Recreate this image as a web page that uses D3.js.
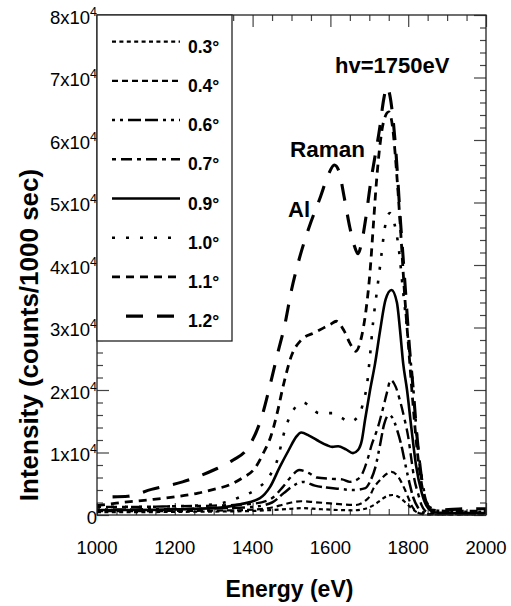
<!DOCTYPE html>
<html>
<head>
<meta charset="utf-8">
<script src="https://cdn.jsdelivr.net/npm/d3@7/dist/d3.min.js"></script>
<style>
body { margin: 0; background: #fff; }
text { font-family: "Liberation Sans", Arial, sans-serif; fill: #000; }
</style>
</head>
<body>
<div id="chart"></div>
<script>
// incidence angles (legend order) and tick values
var angles = ["0.3", "0.4", "0.6", "0.7", "0.9", "1.0", "1.1", "1.2"];
var xTicks = [1000, 1200, 1400, 1600, 1800, 2000];
var yTicks = [0, 10000, 20000, 30000, 40000, 50000, 60000, 70000, 80000];

// spectra: [energy (eV), intensity (counts/1000 sec)]
var s03 = [[1000, 450], [1100, 450], [1200, 500], [1300, 550], [1400, 650], [1450, 800], [1500, 1000],
  [1530, 1100], [1570, 950], [1620, 800], [1660, 750], [1690, 1000], [1712, 1600], [1732, 2500],
  [1748, 3100], [1760, 3200], [1778, 2800], [1793, 2000], [1808, 1100], [1822, 450], [1838, 150],
  [1860, 80], [1920, 80], [2000, 80]];
var s04 = [[1000, 600], [1100, 600], [1200, 650], [1300, 700], [1400, 850], [1450, 1200], [1480, 1700],
  [1500, 2000], [1525, 2200], [1560, 2050], [1600, 1850], [1640, 1650], [1665, 1600], [1690, 2300],
  [1700, 2900], [1712, 4400], [1728, 5600], [1745, 6600], [1757, 6900], [1772, 6300], [1782, 5300],
  [1792, 4000], [1800, 2800], [1808, 1600], [1818, 700], [1830, 250], [1845, 120], [1880, 100], [2000, 100]];
var s06 = [[1000, 900], [1100, 900], [1200, 950], [1300, 1050], [1400, 1300], [1450, 2000], [1480, 3500],
  [1505, 4700], [1530, 5300], [1560, 4700], [1590, 4400], [1620, 4200], [1660, 4000], [1690, 4300],
  [1703, 5500], [1715, 7500], [1727, 11000], [1738, 14500], [1750, 16000], [1760, 15500], [1772, 13500],
  [1783, 11000], [1793, 8000], [1803, 5200], [1813, 2800], [1825, 1200], [1840, 400], [1860, 200],
  [1920, 150], [2000, 150]];
var s07 = [[1000, 1300], [1100, 1300], [1200, 1400], [1300, 1500], [1400, 1800], [1445, 2500], [1478, 4500],
  [1500, 6200], [1520, 7200], [1545, 6700], [1565, 6000], [1600, 5800], [1630, 5700], [1650, 5300],
  [1676, 6000], [1688, 7500], [1696, 9000], [1705, 11000], [1722, 14000], [1735, 17000], [1745, 19500],
  [1755, 21600], [1768, 20500], [1778, 18500], [1790, 15500], [1800, 12500], [1808, 9000], [1815, 6000],
  [1825, 3500], [1835, 1500], [1848, 500], [1865, 250], [1920, 200], [2000, 200]];
var s09 = [[1000, 800], [1100, 800], [1200, 900], [1300, 1100], [1368, 1700], [1419, 2700], [1445, 4500],
  [1470, 7700], [1493, 10400], [1512, 12500], [1525, 13200], [1545, 12700], [1565, 12000], [1590, 11200],
  [1605, 10900], [1620, 11000], [1640, 10500], [1658, 9900], [1671, 10400], [1681, 12000], [1689, 15200],
  [1702, 20000], [1715, 24300], [1728, 29600], [1742, 34500], [1757, 36000], [1771, 34000], [1779, 29600],
  [1787, 24300], [1797, 20000], [1808, 14000], [1820, 8000], [1835, 3500], [1850, 1200], [1870, 400],
  [1920, 300], [2000, 300]];
var s10 = [[1000, 1300], [1100, 1300], [1200, 1400], [1300, 1700], [1340, 2200], [1368, 2900], [1406, 4000],
  [1442, 6100], [1462, 8500], [1483, 13600], [1500, 16300], [1530, 18000], [1550, 17200], [1570, 16300],
  [1605, 16300], [1630, 15500], [1648, 14900], [1671, 15700], [1686, 18400], [1694, 20800], [1702, 25600],
  [1710, 31000], [1720, 36000], [1730, 41000], [1740, 46000], [1753, 48300], [1765, 46500], [1775, 43000],
  [1787, 35700], [1800, 28000], [1812, 21000], [1822, 13000], [1835, 6000], [1848, 2000], [1865, 800],
  [1920, 500], [2000, 500]];
var s11 = [[1000, 1500], [1050, 1900], [1130, 2400], [1200, 2900], [1260, 3500], [1300, 4100], [1340, 4800],
  [1373, 5900], [1406, 7500], [1430, 10200], [1447, 12600], [1462, 16000], [1480, 21000], [1500, 25500],
  [1525, 28000], [1560, 29200], [1600, 30500], [1615, 31000], [1635, 29500], [1650, 27500], [1665, 26200],
  [1680, 28500], [1692, 33000], [1702, 39000], [1710, 46000], [1718, 53000], [1727, 59000], [1737, 63000],
  [1750, 64500], [1760, 62000], [1770, 55000], [1780, 46000], [1790, 36000], [1802, 26000], [1812, 18000],
  [1822, 11000], [1833, 5500], [1845, 2000], [1860, 800], [1920, 600], [2000, 600]];
var s12 = [[1040, 2900], [1080, 3000], [1140, 4100], [1220, 5300], [1300, 7200], [1350, 8800], [1385, 10500],
  [1425, 16000], [1445, 20800], [1465, 26000], [1483, 30500], [1500, 36000], [1520, 41000], [1545, 46000],
  [1575, 51000], [1595, 54500], [1610, 56000], [1622, 55000], [1635, 51000], [1650, 46000], [1662, 43000],
  [1671, 41800], [1680, 43500], [1691, 47500], [1703, 53000], [1715, 57500], [1727, 62000], [1737, 66500],
  [1745, 68500], [1757, 65500], [1766, 60000], [1773, 54000], [1779, 48000], [1786, 42000], [1794, 35000],
  [1803, 27000], [1813, 20000], [1822, 13000], [1832, 7000], [1842, 3000], [1855, 1200], [1880, 800],
  [1950, 1000], [2000, 1000]];

var spectra = [s03, s04, s06, s07, s09, s10, s11, s12];

// line styles per angle
var styles = [
  { dash: "4,3.4", w: 2.2 },
  { dash: "6,4", w: 2.2 },
  { dash: "3,5,3,5,13,4,13,5", w: 2.5 },
  { dash: "4,5,11,5", w: 2.4 },
  { dash: null, w: 2.6 },
  { dash: "3,11", w: 2.6 },
  { dash: "8,6", w: 2.8 },
  { dash: "17,14", w: 3.1 }
];

var margin = { top: 15, right: 25, bottom: 91, left: 97 },
    width = 511 - margin.left - margin.right,
    height = 606 - margin.top - margin.bottom;

var svg = d3.select("#chart")
    .append("svg")
    .attr("width", 511)
    .attr("height", 606)
    .append("g")
    .attr("transform", "translate(" + margin.left + "," + margin.top + ")");

var x = d3.scaleLinear().domain([1000, 2000]).range([0, width]);
var y = d3.scaleLinear().domain([0, 80000]).range([height, 0]);

var xMinor = d3.range(1000, 2001, 50).filter(function (d) { return d % 200 != 0; });
var yMinor = d3.range(0, 80001, 2000).filter(function (d) { return d % 10000 != 0; });

// inward ticks on all four sides
function ticks(axis, vals, size) {
    return axis.tickValues(vals).tickSize(-size).tickFormat("");
}
var axes = [
    [ticks(d3.axisLeft(y), yTicks, 12), "translate(0,0)"],
    [ticks(d3.axisLeft(y), yMinor, 6), "translate(0,0)"],
    [ticks(d3.axisRight(y), yTicks, 12), "translate(" + width + ",0)"],
    [ticks(d3.axisRight(y), yMinor, 6), "translate(" + width + ",0)"],
    [ticks(d3.axisTop(x), xTicks, 12), "translate(0,0)"],
    [ticks(d3.axisTop(x), xMinor, 6), "translate(0,0)"],
    [ticks(d3.axisBottom(x), xTicks, 12), "translate(0," + height + ")"],
    [ticks(d3.axisBottom(x), xMinor, 6), "translate(0," + height + ")"]
];
axes.forEach(function (a) {
    var g = svg.append("g").attr("transform", a[1]).call(a[0]);
    g.select(".domain").remove();
    g.selectAll("line").attr("stroke", "#444").attr("stroke-width", 1.2);
});

// tick labels
svg.selectAll(".xlab")
    .data(xTicks)
    .enter()
    .append("text")
    .attr("class", "xlab")
    .attr("x", function (d) { return x(d); })
    .attr("y", height + 38.5)
    .attr("text-anchor", "middle")
    .style("font-size", "18.5px")
    .text(function (d) { return d; });

var ylab = svg.selectAll(".ylab")
    .data(yTicks)
    .enter()
    .append("text")
    .attr("class", "ylab")
    .attr("x", 0)
    .attr("y", function (d) { return y(d) + 8.5; })
    .attr("text-anchor", "end")
    .style("font-size", "18.5px");
ylab.append("tspan").text(function (d) { return d == 0 ? "0" : (d / 10000) + "x10"; });
ylab.filter(function (d) { return d > 0; })
    .append("tspan")
    .attr("dy", -8)
    .style("font-size", "12.5px")
    .text("4");

// spectra
var line = d3.line()
    .x(function (d) { return x(d[0]); })
    .y(function (d) { return y(d[1]); })
    .curve(d3.curveMonotoneX);

svg.selectAll(".spec")
    .data(spectra)
    .enter()
    .append("path")
    .attr("class", "spec")
    .attr("d", line)
    .attr("fill", "none")
    .attr("stroke", "#000")
    .attr("stroke-width", function (d, i) { return styles[i].w; })
    .attr("stroke-dasharray", function (d, i) { return styles[i].dash; });

// frame
svg.append("rect")
    .attr("width", width)
    .attr("height", height)
    .attr("fill", "none")
    .attr("stroke", "#222")
    .attr("stroke-width", 1.3);

// legend
var legend = svg.append("g");
legend.append("rect")
    .attr("x", 0)
    .attr("y", 0)
    .attr("width", 135)
    .attr("height", 326)
    .attr("fill", "#fff")
    .attr("stroke", "#222")
    .attr("stroke-width", 1.3);

var row = legend.selectAll(".row")
    .data(angles)
    .enter()
    .append("g")
    .attr("transform", function (d, i) { return "translate(0," + (26.7 + i * 39.2) + ")"; });
row.append("line")
    .attr("x1", 15)
    .attr("x2", 83)
    .attr("stroke", "#000")
    .attr("stroke-width", function (d, i) { return styles[i].w; })
    .attr("stroke-dasharray", function (d, i) { return styles[i].dash; })
    .attr("stroke-dashoffset", function (d, i) { return i == 7 ? 17 : 0; });
row.append("text")
    .attr("x", 91)
    .attr("y", 11)
    .style("font-size", "17.5px")
    .style("font-weight", "bold")
    .text(function (d) { return d + "\u00b0"; });

// annotations
svg.append("text").attr("x", 238).attr("y", 58)
    .style("font-size", "22px").style("font-weight", "bold").text("hv=1750eV");
svg.append("text").attr("x", 193).attr("y", 142)
    .style("font-size", "22.5px").style("font-weight", "bold").text("Raman");
svg.append("text").attr("x", 191).attr("y", 202)
    .style("font-size", "22px").style("font-weight", "bold").text("Al");

// axis titles
svg.append("text")
    .attr("x", width / 2 - 2)
    .attr("y", height + 82)
    .attr("text-anchor", "middle")
    .style("font-size", "23px")
    .style("font-weight", "bold")
    .text("Energy (eV)");
svg.append("text")
    .attr("transform", "translate(-59," + (320) + ") rotate(-90)")
    .attr("text-anchor", "middle")
    .style("font-size", "26px")
    .style("font-weight", "bold")
    .text("Intensity (counts/1000 sec)");
</script>
</body>
</html>
